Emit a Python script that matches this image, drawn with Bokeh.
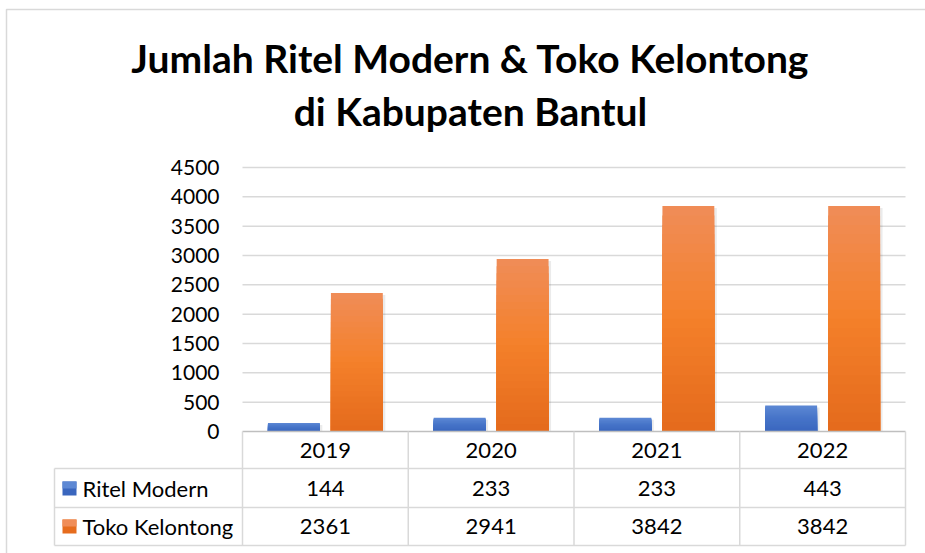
import numpy as np
from bokeh.plotting import figure
from bokeh.models import Range1d
from bokeh.core.properties import value
from bokeh.embed import file_html
from bokeh.resources import INLINE

# ---------------- data ----------------
title_lines = ["Jumlah Ritel Modern & Toko Kelontong", "di Kabupaten Bantul"]
years = ["2019", "2020", "2021", "2022"]
series_names = ["Ritel Modern", "Toko Kelontong"]
ritel_modern = [144, 233, 233, 443]
toko_kelontong = [2361, 2941, 3842, 3842]
y_ticks = [0, 500, 1000, 1500, 2000, 2500, 3000, 3500, 4000, 4500]

# ---------------- layout (pixels) ----------------
W, H = 925, 553
PL, PR = 242, 905          # plot area left / right
PT, PB = 167, 431          # pixel rows of y max and of 0
TL = 54                    # table left edge
ROW_LINES = [468, 507, 545]
HEADER_Y = 450
ROW_Y = [488, 526]
FONT = "Lato"
GRID = "#D9D9D9"
TEXT = "#000000"

n = len(years)
cat_px = (PR - PL) / n
y_max = y_ticks[-1]
upp = y_max / (PB - PT)
x_lo = -0.5 - PL / cat_px
x_hi = n - 0.5 + (W - PR) / cat_px
y_lo = -(H - PB) * upp
y_hi = y_max + PT * upp

p = figure(width=W, height=H, x_range=Range1d(x_lo, x_hi), y_range=Range1d(y_lo, y_hi),
           output_backend="svg", toolbar_location=None,
           x_axis_location=None, y_axis_location=None,
           min_border_left=0, min_border_right=0, min_border_top=0, min_border_bottom=0,
           outline_line_color=None, background_fill_color="white", border_fill_color="white")
p.grid.visible = False
p.extra_x_ranges = {"px": Range1d(0, W)}
p.extra_y_ranges = {"py": Range1d(H, 0)}

# chart border
p.quad(left=[6], right=[W + 10], top=[9], bottom=[H + 10], fill_color=None,
       line_color=GRID, line_width=1.5, x_range_name="px", y_range_name="py")

# title
p.text(x=[470], y=[57], text=[title_lines[0]], text_font=value(FONT), text_font_style="bold",
       text_font_size="39px", text_align="center", text_baseline="alphabetic",
       text_color=TEXT, x_range_name="px", y_range_name="py")
p.text(x=[470], y=[110], text=[title_lines[1]], text_font=value(FONT), text_font_style="bold",
       text_font_size="39px", text_align="center", text_baseline="alphabetic",
       text_color=TEXT, x_range_name="px", y_range_name="py")

# gridlines
gt = [t for t in y_ticks if t > 0]
p.segment(x0=[-0.5] * len(gt), x1=[n - 0.5] * len(gt), y0=gt, y1=gt,
          line_color=GRID, line_width=1.5)

# y tick labels
p.text(x=[219] * len(y_ticks), y=y_ticks, text=[str(t) for t in y_ticks],
       text_font=value(FONT), text_font_size="21px", text_align="right",
       text_baseline="middle", text_color=TEXT, x_range_name="px")

# bars with vertical gradient
BAR_W = 0.313
OFF = 0.19
blue_stops = [(58, 102, 190), (70, 116, 200), (93, 136, 212)]
orange_stops = [(228, 106, 28), (244, 128, 42), (240, 141, 88)]


def interp(stops, t):
    pos = np.linspace(0, 1, len(stops))
    c = [int(round(np.interp(t, pos, [s[i] for s in stops]))) for i in range(3)]
    return "#%02x%02x%02x" % tuple(c)


def gradient_bars(xc, vals, stops, steps=24):
    vals = np.asarray(vals, dtype=float)
    # soft shadow
    p.vbar(x=xc + 2.5 / cat_px, top=vals - 2 * upp, bottom=0, width=BAR_W,
           fill_color="#000000", fill_alpha=0.08, line_color=None)
    for k in range(steps):
        f = 1 - k / steps
        col = interp(stops, f - 0.5 / steps)
        p.vbar(x=xc, top=vals * f, bottom=0, width=BAR_W, fill_color=col, line_color=None)


xs = np.arange(n, dtype=float)
gradient_bars(xs - OFF, ritel_modern, blue_stops)
gradient_bars(xs + OFF, toko_kelontong, orange_stops)

# table lines
tl_data = x_lo + TL / cat_px
p.segment(x0=[-0.5], x1=[n - 0.5], y0=[0], y1=[0], line_color="#BFBFBF", line_width=1.5)
p.segment(x0=[tl_data] * len(ROW_LINES), x1=[n - 0.5] * len(ROW_LINES),
          y0=ROW_LINES, y1=ROW_LINES, line_color=GRID, line_width=1.5, y_range_name="py")
vx = [i - 0.5 for i in range(n + 1)]
p.segment(x0=vx, x1=vx, y0=[PB] * len(vx), y1=[ROW_LINES[-1]] * len(vx),
          line_color=GRID, line_width=1.5, y_range_name="py")
p.segment(x0=[tl_data], x1=[tl_data], y0=[ROW_LINES[0]], y1=[ROW_LINES[-1]],
          line_color=GRID, line_width=1.5, y_range_name="py")

# table header
p.text(x=list(xs), y=[HEADER_Y] * n, text=years, text_font=value(FONT), text_font_size="22px",
       text_align="center", text_baseline="middle", text_color=TEXT, y_range_name="py")

# table values
for vals, ry in zip([ritel_modern, toko_kelontong], ROW_Y):
    p.text(x=list(xs), y=[ry] * n, text=[str(v) for v in vals], text_font=value(FONT),
           text_font_size="22px", text_align="center", text_baseline="middle",
           text_color=TEXT, y_range_name="py")

# row labels with legend keys
key_cols = [["#3A66BE", "#5D88D4"], ["#E66C1E", "#F08D58"]]
for name, ry, kc in zip(series_names, ROW_Y, key_cols):
    p.quad(left=[62], right=[76], top=[ry - 7], bottom=[ry + 7], fill_color=kc[0],
           line_color=None, x_range_name="px", y_range_name="py")
    p.quad(left=[62], right=[76], top=[ry - 7], bottom=[ry], fill_color=kc[1],
           line_color=None, x_range_name="px", y_range_name="py")
    p.text(x=[82], y=[ry], text=[name], text_font=value(FONT), text_font_size="22px",
           text_align="left", text_baseline="middle", text_color=TEXT,
           x_range_name="px", y_range_name="py")

open("out.html", "w").write(file_html(p, INLINE))
